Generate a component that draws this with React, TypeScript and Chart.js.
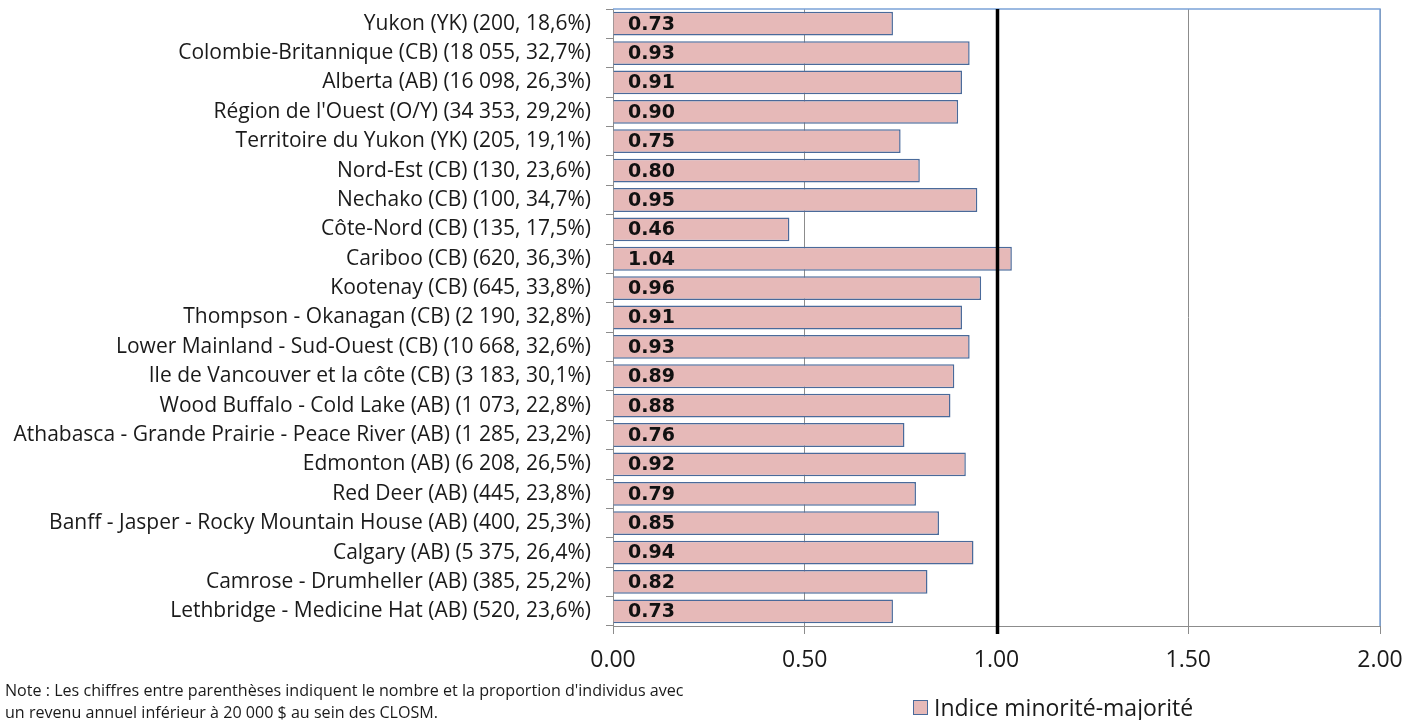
import React, { useEffect, useRef } from "react";
import { Chart, registerables } from "chart.js";

Chart.register(...registerables);

const categories: string[] = [
  "Yukon (YK) (200, 18,6%)",
  "Colombie-Britannique (CB) (18 055, 32,7%)",
  "Alberta (AB) (16 098, 26,3%)",
  "Région de l'Ouest (O/Y) (34 353, 29,2%)",
  "Territoire du Yukon (YK) (205, 19,1%)",
  "Nord-Est (CB) (130, 23,6%)",
  "Nechako (CB) (100, 34,7%)",
  "Côte-Nord (CB) (135, 17,5%)",
  "Cariboo (CB) (620, 36,3%)",
  "Kootenay (CB) (645, 33,8%)",
  "Thompson - Okanagan (CB) (2 190, 32,8%)",
  "Lower Mainland - Sud-Ouest (CB) (10 668, 32,6%)",
  "Ile de Vancouver et la côte (CB) (3 183, 30,1%)",
  "Wood Buffalo - Cold Lake (AB) (1 073, 22,8%)",
  "Athabasca - Grande Prairie - Peace River (AB) (1 285, 23,2%)",
  "Edmonton (AB) (6 208, 26,5%)",
  "Red Deer (AB) (445, 23,8%)",
  "Banff - Jasper - Rocky Mountain House (AB) (400, 25,3%)",
  "Calgary (AB) (5 375, 26,4%)",
  "Camrose - Drumheller (AB) (385, 25,2%)",
  "Lethbridge - Medicine Hat (AB) (520, 23,6%)",
];

const indexValues: number[] = [
  0.73, 0.93, 0.91, 0.9, 0.75, 0.8, 0.95, 0.46, 1.04, 0.96, 0.91, 0.93, 0.89,
  0.88, 0.76, 0.92, 0.79, 0.85, 0.94, 0.82, 0.73,
];

const xMin = 0;
const xMax = 2;
const xStep = 0.5;
const referenceValue = 1;
const seriesLabel = "Indice minorité-majorité";
const noteLines: string[] = [
  "Note : Les chiffres entre parenthèses indiquent le nombre et la proportion d'individus avec",
  "un revenu annuel inférieur à 20 000 $ au sein des CLOSM.",
];

const BAR_FILL = "#e6b9b8";
const BAR_BORDER = "#4a6a9a";
const GRID = "#8c8c8c";
const FRAME_BLUE = "#7ba2d8";
const LABEL_FONT = '"Open Sans", sans-serif';

export default function App() {
  const canvasRef = useRef<HTMLCanvasElement | null>(null);

  useEffect(() => {
    const canvas = canvasRef.current;
    if (!canvas) return;

    const framePlugin = {
      id: "frame",
      beforeDatasetsDraw(chart: any) {
        const { ctx, chartArea } = chart;
        ctx.save();
        ctx.strokeStyle = FRAME_BLUE;
        ctx.lineWidth = 1.5;
        ctx.beginPath();
        ctx.moveTo(chartArea.left, chartArea.top);
        ctx.lineTo(chartArea.right, chartArea.top);
        ctx.lineTo(chartArea.right, chartArea.bottom);
        ctx.stroke();
        ctx.restore();
      },
    };

    const refLinePlugin = {
      id: "refLine",
      afterDatasetsDraw(chart: any) {
        const { ctx, chartArea, scales } = chart;
        const x = scales.x.getPixelForValue(referenceValue) + 1;
        ctx.save();
        ctx.strokeStyle = "#000000";
        ctx.lineWidth = 3.5;
        ctx.beginPath();
        ctx.moveTo(x, chartArea.top);
        ctx.lineTo(x, chartArea.bottom + 8);
        ctx.stroke();
        ctx.restore();
      },
    };

    const valueLabelPlugin = {
      id: "valueLabels",
      afterDatasetsDraw(chart: any) {
        const { ctx, chartArea } = chart;
        const meta = chart.getDatasetMeta(0);
        ctx.save();
        ctx.font = 'bold 19px "DejaVu Sans", sans-serif';
        ctx.fillStyle = "#111111";
        ctx.textAlign = "left";
        ctx.textBaseline = "middle";
        meta.data.forEach((bar: any, i: number) => {
          const v = chart.data.datasets[0].data[i] as number;
          ctx.fillText(v.toFixed(2), chartArea.left + 15, bar.y + 1);
        });
        ctx.restore();
      },
    };

    const chart = new Chart(canvas, {
      type: "bar",
      data: {
        labels: categories,
        datasets: [
          {
            label: seriesLabel,
            data: indexValues,
            backgroundColor: BAR_FILL,
            borderColor: BAR_BORDER,
            borderWidth: 1.5,
            barPercentage: 0.81,
            categoryPercentage: 1,
          },
        ],
      },
      options: {
        indexAxis: "y",
        responsive: false,
        animation: false,
        devicePixelRatio: 1,
        layout: { padding: { left: 0, top: 9, right: 25, bottom: 34 } },
        plugins: {
          legend: { display: false },
          tooltip: { enabled: false },
        },
        scales: {
          x: {
            min: xMin,
            max: xMax,
            ticks: {
              stepSize: xStep,
              callback: (v: any) => Number(v).toFixed(2),
              color: "#1a1a1a",
              font: { family: LABEL_FONT, size: 23 },
              padding: 13,
              maxRotation: 0,
            },
            grid: {
              color: GRID,
              lineWidth: 1,
              drawTicks: true,
              tickLength: 8,
            },
            border: { display: true, color: GRID, width: 1 },
            afterFit: (scale: any) => {
              scale.height = 60;
              scale.paddingLeft = 0;
              scale.paddingRight = 0;
            },
          },
          y: {
            ticks: {
              autoSkip: false,
              color: "#1a1a1a",
              font: { family: LABEL_FONT, size: 21 },
              padding: 15,
            },
            grid: {
              drawOnChartArea: false,
              drawTicks: true,
              tickLength: 7,
              color: GRID,
            },
            border: { display: true, color: GRID, width: 1 },
            afterFit: (scale: any) => {
              scale.width = 613;
              scale.paddingTop = 0;
              scale.paddingBottom = 0;
            },
          },
        },
      },
      plugins: [framePlugin, refLinePlugin, valueLabelPlugin],
    } as any);

    return () => chart.destroy();
  }, []);

  return (
    <div
      style={{
        position: "fixed",
        left: 0,
        top: 0,
        width: 1405,
        height: 720,
        background: "#ffffff",
        overflow: "hidden",
      }}
    >
      <canvas ref={canvasRef} width={1405} height={720} style={{ display: "block" }} />
      <div
        style={{
          position: "absolute",
          left: 5,
          top: 679,
          fontFamily: LABEL_FONT,
          fontSize: 16.1,
          lineHeight: "22px",
          color: "#1a1a1a",
          whiteSpace: "nowrap",
        }}
      >
        {noteLines.map((l, i) => (
          <div key={i}>{l}</div>
        ))}
      </div>
      <div
        style={{
          position: "absolute",
          left: 913,
          top: 694,
          height: 26,
          display: "flex",
          alignItems: "center",
          fontFamily: LABEL_FONT,
          fontSize: 23,
          lineHeight: "26px",
          color: "#1a1a1a",
          whiteSpace: "nowrap",
        }}
      >
        <span
          style={{
            display: "inline-block",
            width: 13,
            height: 13,
            background: BAR_FILL,
            border: `1.5px solid ${BAR_BORDER}`,
            marginRight: 6,
          }}
        />
        <span>{seriesLabel}</span>
      </div>
    </div>
  );
}
